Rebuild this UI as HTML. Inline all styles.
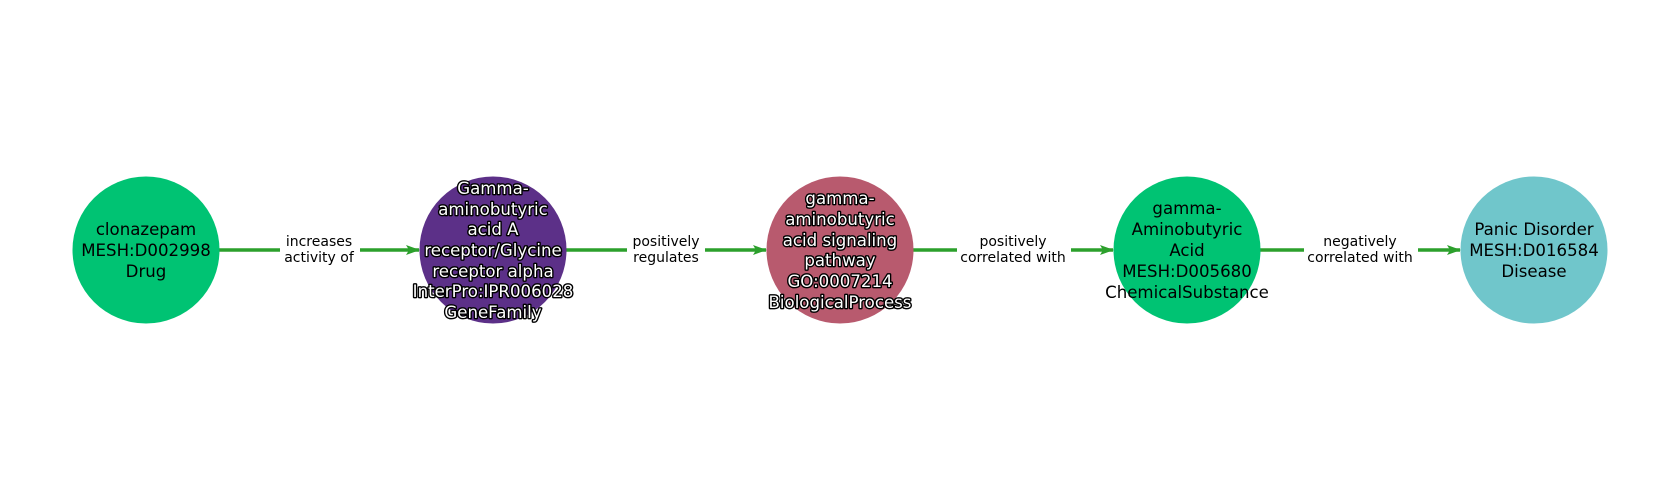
<!DOCTYPE html>
<html><head><meta charset="utf-8"><style>
html,body{margin:0;padding:0;background:#fff;}
svg{display:block;}
.n{font-family:"DejaVu Sans","Liberation Sans",sans-serif;font-size:16.6px;text-anchor:middle;fill:#000;}
.w{fill:#fff;stroke:#000;stroke-width:2.8px;paint-order:stroke;stroke-linejoin:round;}
.e{font-family:"DejaVu Sans","Liberation Sans",sans-serif;font-size:14px;text-anchor:middle;fill:#000;}
</style></head><body>
<svg width="1680" height="500" viewBox="0 0 1680 500" xmlns="http://www.w3.org/2000/svg">
<defs><marker id="a" markerWidth="14" markerHeight="12" refX="13" refY="6" orient="auto" markerUnits="userSpaceOnUse"><path d="M0,1 L14,6 L0,11 L3,6 Z" fill="#2ca02c"/></marker></defs>
<g stroke="#2ca02c" stroke-width="3.5" fill="none">
<line x1="219" y1="250" x2="419" y2="250" marker-end="url(#a)"/>
<line x1="566" y1="250" x2="766" y2="250" marker-end="url(#a)"/>
<line x1="913" y1="250" x2="1113" y2="250" marker-end="url(#a)"/>
<line x1="1260" y1="250" x2="1460" y2="250" marker-end="url(#a)"/>
</g>
<g fill="#fff">
<rect x="280" y="232" width="80" height="36"/>
<rect x="627" y="232" width="78" height="36"/>
<rect x="957" y="232" width="114" height="36"/>
<rect x="1304" y="232" width="114" height="36"/>
</g>
<text class="e" x="319" y="246">increases</text><text class="e" x="319" y="262">activity of</text>
<text class="e" x="666" y="246">positively</text><text class="e" x="666" y="262">regulates</text>
<text class="e" x="1013" y="246">positively</text><text class="e" x="1013" y="262">correlated with</text>
<text class="e" x="1360" y="246">negatively</text><text class="e" x="1360" y="262">correlated with</text>
<circle cx="146" cy="250" r="73.5" fill="#00c373"/>
<circle cx="493" cy="250" r="73.5" fill="#5c3088"/>
<circle cx="840" cy="250" r="73.5" fill="#b85a6e"/>
<circle cx="1187" cy="250" r="73.5" fill="#00c373"/>
<circle cx="1534" cy="250" r="73.5" fill="#70c6cb"/>
<text class="n" x="146" y="235">clonazepam</text><text class="n" x="146" y="256">MESH:D002998</text><text class="n" x="146" y="277">Drug</text>
<g class="n w">
<text x="493" y="194">Gamma-</text><text x="493" y="215">aminobutyric</text><text x="493" y="235">acid A</text><text x="493" y="256">receptor/Glycine</text><text x="493" y="277">receptor alpha</text><text x="493" y="297">InterPro:IPR006028</text><text x="493" y="318">GeneFamily</text>
<text x="840" y="204">gamma-</text><text x="840" y="225">aminobutyric</text><text x="840" y="246">acid signaling</text><text x="840" y="266">pathway</text><text x="840" y="287">GO:0007214</text><text x="840" y="308">BiologicalProcess</text>
</g>
<text class="n" x="1187" y="214">gamma-</text><text class="n" x="1187" y="235">Aminobutyric</text><text class="n" x="1187" y="256">Acid</text><text class="n" x="1187" y="277">MESH:D005680</text><text class="n" x="1187" y="298">ChemicalSubstance</text>
<text class="n" x="1534" y="235">Panic Disorder</text><text class="n" x="1534" y="256">MESH:D016584</text><text class="n" x="1534" y="277">Disease</text>
</svg>
</body></html>
